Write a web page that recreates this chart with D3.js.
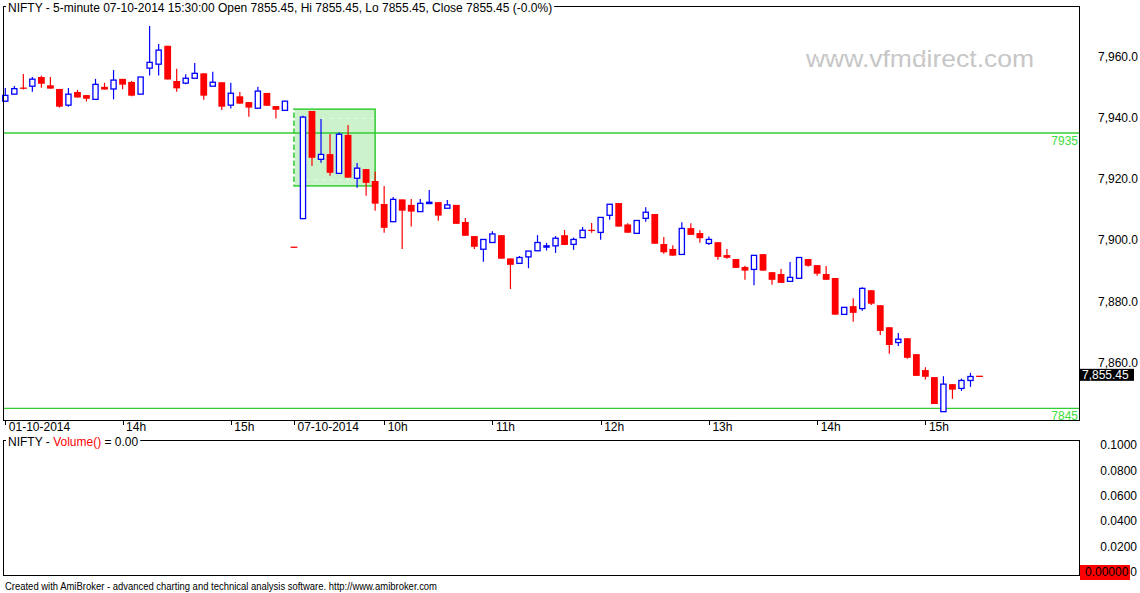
<!DOCTYPE html>
<html>
<head>
<meta charset="utf-8">
<script src="https://cdnjs.cloudflare.com/ajax/libs/d3/7.8.5/d3.min.js"></script>
<style>
  body { margin: 0; background: #fff; }
  svg { display: block; font-family: "Liberation Sans", Arial, sans-serif; }
</style>
</head>
<body>
<figure id="chart" style="margin:0"></figure>
<script>
// 5-minute bars, 01-10-2014 afternoon then 07-10-2014
var opens = [7945.4,7947.7,7949.8,7950.3,7953.3,7950.6,7949.4,7944.1,7948.4,7947.4,
  7946.0,7950.1,7949.4,7952.7,7951.7,7947.7,7956.2,7957.5,7963.5,7952.0,
  7951.3,7952.9,7954.5,7950.3,7951.6,7944.1,7947.0,7945.1,7943.1,7948.1,
  7943.8,7942.4,7897.7,7907.0,7942.2,7926.4,7928.1,7921.8,7934.4,7920.2,
  7923.2,7919.3,7911.8,7906.0,7913.3,7911.5,7909.3,7912.0,7912.4,7910.4,
  7911.5,7905.9,7901.3,7897.0,7899.2,7901.6,7894.0,7892.4,7894.5,7896.5,
  7897.8,7898.1,7901.6,7898.6,7900.8,7903.3,7902.5,7908.1,7912.1,7905.1,
  7902.2,7907.1,7908.5,7898.7,7897.1,7895.3,7903.9,7902.3,7898.9,7899.3,
  7895.1,7893.8,7891.2,7890.4,7895.4,7889.5,7888.9,7886.5,7887.5,7893.8,
  7891.8,7888.9,7887.6,7875.7,7878.4,7877.6,7883.6,7878.7,7871.5,7866.5,
  7867.9,7862.7,7857.5,7855.2,7843.9,7852.9,7851.5,7854.1,7855.45];
var highs = [7949.7,7950.4,7954.3,7953.3,7953.7,7953.3,7949.4,7949.7,7949.1,7947.4,
  7952.7,7951.4,7955.6,7952.7,7952.0,7953.3,7970.0,7964.1,7963.5,7956.0,
  7954.2,7957.9,7954.5,7955.0,7951.6,7951.4,7948.4,7945.1,7950.1,7948.1,
  7943.8,7945.4,7897.7,7940.6,7942.2,7939.6,7934.7,7935.2,7937.6,7925.2,
  7923.2,7922.3,7917.7,7914.1,7913.3,7913.4,7913.4,7916.4,7912.4,7913.1,
  7911.5,7907.2,7901.3,7900.2,7902.9,7901.6,7894.0,7894.8,7896.4,7901.6,
  7899.1,7901.3,7903.3,7900.8,7904.3,7905.6,7907.4,7911.7,7912.1,7905.5,
  7906.4,7910.7,7908.5,7901.0,7898.3,7905.8,7905.5,7903.2,7901.2,7899.3,
  7897.1,7893.8,7891.6,7895.0,7895.4,7889.5,7890.5,7892.8,7894.3,7893.8,
  7891.8,7891.5,7887.6,7878.0,7881.0,7884.6,7883.6,7878.7,7871.5,7869.6,
  7867.9,7862.7,7858.4,7855.2,7855.5,7852.9,7854.7,7856.6,7855.45];
var lows = [7945.1,7947.7,7949.2,7948.5,7949.8,7949.5,7943.3,7943.6,7946.6,7945.3,
  7946.0,7949.2,7946.0,7949.3,7947.0,7947.7,7953.8,7953.8,7952.5,7948.5,
  7950.9,7952.9,7945.9,7950.3,7942.5,7943.0,7944.6,7940.3,7943.1,7943.9,
  7939.7,7942.4,7897.6,7907.0,7924.2,7925.3,7921.0,7921.8,7920.4,7917.1,
  7914.5,7909.6,7902.4,7906.0,7897.1,7904.4,7909.3,7912.0,7906.3,7910.4,
  7905.3,7901.4,7897.1,7892.9,7899.2,7893.9,7884.0,7892.4,7890.8,7896.5,
  7896.6,7895.8,7898.4,7896.8,7900.8,7902.4,7900.1,7906.6,7904.4,7902.4,
  7902.2,7906.0,7898.8,7895.5,7894.9,7895.3,7901.7,7899.1,7898.4,7893.6,
  7893.9,7890.9,7887.0,7885.2,7890.0,7885.4,7886.0,7886.5,7887.5,7891.3,
  7888.3,7887.0,7875.6,7875.7,7873.3,7876.9,7878.8,7869.0,7862.8,7865.4,
  7861.2,7855.6,7854.4,7846.4,7843.9,7848.1,7850.7,7852.0,7855.45];
var closes = [7947.3,7949.5,7949.5,7952.6,7951.1,7949.5,7943.6,7947.7,7946.6,7946.2,
  7950.9,7949.2,7952.3,7950.8,7947.2,7953.3,7958.1,7962.1,7952.5,7949.6,
  7952.9,7954.5,7947.2,7951.6,7943.6,7948.0,7944.6,7943.3,7948.7,7943.9,
  7942.6,7945.4,7897.6,7940.2,7926.9,7928.0,7922.0,7934.6,7920.4,7923.5,
  7918.7,7911.9,7904.0,7913.3,7909.6,7909.3,7912.0,7912.3,7908.0,7911.5,
  7905.3,7901.4,7897.8,7900.2,7902.0,7893.9,7891.9,7894.3,7896.4,7899.2,
  7898.0,7900.6,7898.4,7900.2,7903.2,7903.0,7907.4,7911.7,7904.4,7902.4,
  7906.4,7909.1,7898.8,7896.0,7894.9,7903.8,7901.7,7900.6,7900.2,7894.5,
  7894.2,7890.9,7890.0,7895.0,7890.0,7887.0,7886.0,7887.8,7894.3,7891.6,
  7889.0,7887.0,7875.6,7878.0,7876.2,7884.2,7879.2,7870.3,7865.7,7867.6,
  7861.5,7855.6,7855.3,7846.4,7852.9,7851.1,7854.1,7855.4,7855.45];

// axis ticks
var xTickBars = [0, 13, 25, 32, 42, 54, 66, 78, 90, 102];
var xTickLabels = ["01-10-2014", "14h", "15h", "07-10-2014", "10h", "11h", "12h", "13h", "14h", "15h"];
var priceTicks = [7860, 7880, 7900, 7920, 7940, 7960];
var volumeTicks = [0, 0.02, 0.04, 0.06, 0.08, 0.1];

// drawn studies: two horizontal levels and a shaded box
var levelLines = [7935, 7845];
var boxBars = [32, 41];
var boxPrices = [7942.8, 7917.7];

var bars = d3.range(opens.length);
var last = bars.length - 1;

var svg = d3.select("figure#chart")
  .append("svg")
  .attr("width", 1140)
  .attr("height", 593);

// scales
var x = d3.scaleLinear().domain([0, last]).range([5.3, 979.5]);
var y = d3.scaleLinear().domain([7845, 7935]).range([408.3, 133]);
var yv = d3.scaleLinear().domain([0, 0.1]).range([571.7, 445]);

var main = svg.append("g");

// watermark
main.append("text")
  .attr("x", 806)
  .attr("y", 67)
  .attr("textLength", 228)
  .attr("lengthAdjust", "spacingAndGlyphs")
  .style("font-size", "24px")
  .style("fill", "#c6c6c6")
  .text("www.vfmdirect.com");

// shaded box
main.append("rect")
  .attr("x", x(boxBars[0]))
  .attr("y", y(boxPrices[0]))
  .attr("width", x(boxBars[1]) - x(boxBars[0]))
  .attr("height", y(boxPrices[1]) - y(boxPrices[0]))
  .style("fill", "#ccf2cc")
  .style("stroke", "#33cc33")
  .style("stroke-width", 1.5);

// white dotted grid (only shows over the box)
main.selectAll(".hgrid")
  .data(priceTicks)
  .enter()
  .append("line")
  .attr("x1", 3).attr("x2", 1079)
  .attr("y1", function(d) { return Math.round(y(d)) + 0.5; })
  .attr("y2", function(d) { return Math.round(y(d)) + 0.5; })
  .style("stroke", "#fff")
  .style("stroke-dasharray", "1.5,6.5");

main.selectAll(".vgrid")
  .data(xTickBars)
  .enter()
  .append("line")
  .attr("x1", function(d) { return x(d); })
  .attr("x2", function(d) { return x(d); })
  .attr("y1", 6).attr("y2", 420)
  .style("stroke", "#fff")
  .style("stroke-width", 2)
  .style("stroke-dasharray", "2.5,5.5");

// level lines
main.selectAll(".level")
  .data(levelLines)
  .enter()
  .append("line")
  .attr("x1", 3).attr("x2", 1079)
  .attr("y1", function(d) { return y(d); })
  .attr("y2", function(d) { return y(d); })
  .style("stroke", "#33cc33")
  .style("stroke-width", 1.3);

main.selectAll(".levelText")
  .data(levelLines)
  .enter()
  .append("text")
  .attr("x", 1078)
  .attr("y", function(d) { return y(d) + 11.5; })
  .attr("text-anchor", "end")
  .style("font-size", "12px")
  .style("fill", "#3ddc3d")
  .text(function(d) { return d; });

// candles: wicks first, then bodies
function isUp(i) { return closes[i] > opens[i]; }

main.selectAll(".wick")
  .data(bars)
  .enter()
  .append("line")
  .attr("x1", function(i) { return x(i); })
  .attr("x2", function(i) { return x(i); })
  .attr("y1", function(i) { return y(highs[i]); })
  .attr("y2", function(i) { return y(lows[i]); })
  .style("stroke", function(i) { return isUp(i) ? "#0000ff" : "#ff0000"; })
  .style("stroke-width", 1.2);

main.selectAll(".body")
  .data(bars)
  .enter()
  .append("rect")
  .attr("x", function(i) { return x(i) - (isUp(i) ? 2.6 : 3.4); })
  .attr("width", function(i) { return isUp(i) ? 5.2 : 6.8; })
  .attr("y", function(i) {
    var top = y(Math.max(opens[i], closes[i]));
    var h = Math.abs(y(opens[i]) - y(closes[i]));
    return h < 1.3 ? top - (1.3 - h) / 2 : top;
  })
  .attr("height", function(i) { return Math.max(1.3, Math.abs(y(opens[i]) - y(closes[i]))); })
  .style("fill", function(i) { return isUp(i) ? "#fff" : "#ff0000"; })
  .style("stroke", function(i) { return isUp(i) ? "#0000ff" : "none"; })
  .style("stroke-width", 1.3);

// panel frames
svg.append("rect")
  .attr("x", 3.5).attr("y", 6.5)
  .attr("width", 1076).attr("height", 414)
  .style("fill", "none").style("stroke", "#000");

svg.append("rect")
  .attr("x", 3.5).attr("y", 440.5)
  .attr("width", 1076).attr("height", 135)
  .style("fill", "none").style("stroke", "#000");

// titles with white backing over the frame line
function title(yPos, parts) {
  var g = svg.append("g");
  var t = g.append("text")
    .attr("x", 8)
    .attr("y", yPos)
    .style("font-size", "12px");
  parts.forEach(function(p) {
    t.append("tspan").style("fill", p[1]).text(p[0]);
  });
  var w = t.node().getComputedTextLength();
  g.insert("rect", "text")
    .attr("x", 6).attr("y", yPos - 11)
    .attr("width", w + 4).attr("height", 14)
    .style("fill", "#fff");
}

title(11.5, [["NIFTY - 5-minute 07-10-2014 15:30:00 Open " + opens[last] +
  ", Hi " + highs[last] + ", Lo " + lows[last] + ", Close " + closes[last] + " (-0.0%)", "#000"]]);
title(445.5, [["NIFTY - ", "#000"], ["Volume()", "#ff0000"], [" = 0.00", "#000"]]);

// bottom time axis
var xAxis = d3.axisBottom(x)
  .tickValues(xTickBars)
  .tickFormat(function(d, i) { return xTickLabels[i]; })
  .tickSize(5)
  .tickSizeOuter(0);

var gx = svg.append("g")
  .attr("transform", "translate(0,420)")
  .call(xAxis);
gx.select(".domain").remove();
gx.selectAll("line").style("stroke", "#000").attr("shape-rendering", "crispEdges");
gx.selectAll("text")
  .attr("text-anchor", "start")
  .attr("x", 3)
  .attr("y", 2)
  .style("font-size", "12px")
  .style("font-family", "Liberation Sans, Arial, sans-serif")
  .style("fill", "#000");

// right price axis
var yAxis = d3.axisRight(y)
  .tickValues(priceTicks)
  .tickFormat(d3.format(",.1f"))
  .tickSize(0);

var gy = svg.append("g")
  .attr("transform", "translate(1138,0)")
  .call(yAxis);
gy.select(".domain").remove();
gy.selectAll("text")
  .attr("x", 0)
  .attr("text-anchor", "end")
  .style("font-size", "12px")
  .style("font-family", "Liberation Sans, Arial, sans-serif")
  .style("fill", "#000");

// last price tag
svg.append("rect")
  .attr("x", 1080).attr("y", y(closes[last]) - 7.5)
  .attr("width", 54).attr("height", 12)
  .style("fill", "#000");
svg.append("text")
  .attr("x", 1082).attr("y", y(closes[last]) + 2.8)
  .style("font-size", "12px")
  .style("fill", "#fff")
  .text(d3.format(",.2f")(closes[last]));

// volume axis
var vAxis = d3.axisRight(yv)
  .tickValues(volumeTicks)
  .tickFormat(function(d) { return d === 0 ? "0" : d3.format(".4f")(d); })
  .tickSize(0);

var gv = svg.append("g")
  .attr("transform", "translate(1137,0)")
  .call(vAxis);
gv.select(".domain").remove();
gv.selectAll("text")
  .attr("x", 0)
  .attr("text-anchor", "end")
  .style("font-size", "12px")
  .style("font-family", "Liberation Sans, Arial, sans-serif")
  .style("fill", "#000");

// last volume tag
svg.append("rect")
  .attr("x", 1080).attr("y", yv(0) - 6.7)
  .attr("width", 50).attr("height", 15)
  .style("fill", "#ff0000");
svg.append("text")
  .attr("x", 1085).attr("y", yv(0) + 4.5)
  .style("font-size", "12px")
  .style("fill", "#000")
  .text("0.00000");

// footer
svg.append("text")
  .attr("x", 5)
  .attr("y", 590)
  .attr("textLength", 432)
  .attr("lengthAdjust", "spacingAndGlyphs")
  .style("font-size", "10px")
  .style("fill", "#000")
  .text("Created with AmiBroker - advanced charting and technical analysis software. http://www.amibroker.com");
</script>
</body>
</html>
